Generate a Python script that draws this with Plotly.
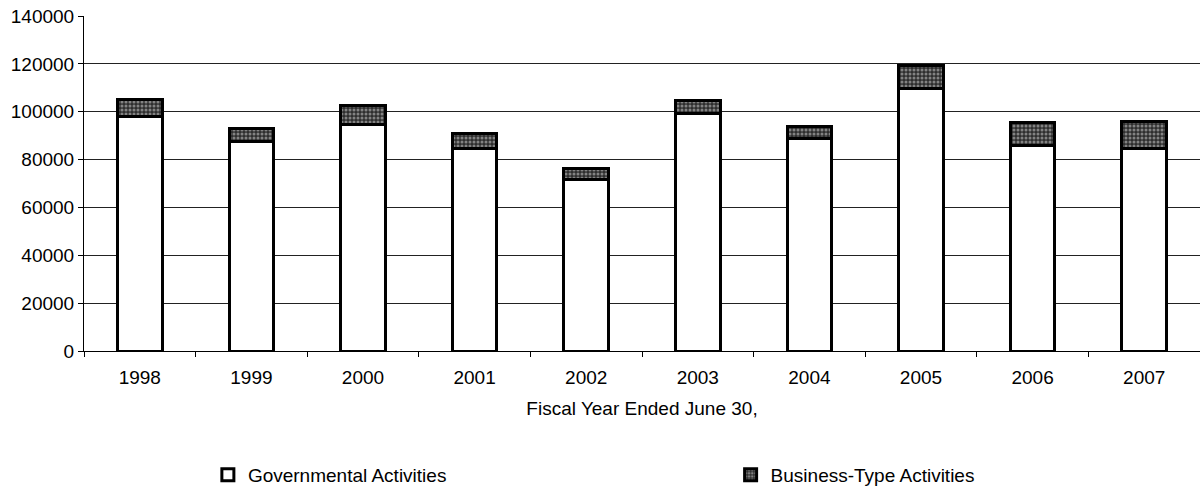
import plotly.graph_objects as go

years = ["1998", "1999", "2000", "2001", "2002", "2003", "2004", "2005", "2006", "2007"]
governmental = [97800, 87400, 94600, 84700, 71800, 99400, 89000, 109800, 85700, 84500]
business = [7400, 5400, 8200, 6300, 4400, 5200, 4700, 9500, 9800, 11300]

FONT = "Liberation Sans, Arial, sans-serif"

fig = go.Figure()
fig.add_trace(go.Bar(
    x=years, y=governmental, name="Governmental Activities",
    marker=dict(color="white", line=dict(color="black", width=3)),
    legend="legend",
))
fig.add_trace(go.Bar(
    x=years, y=business, name="Business-Type Activities",
    marker=dict(color="#555555", line=dict(color="black", width=3),
                pattern=dict(shape=".", bgcolor="#2e2e2e", fgcolor="#d8d8d8",
                             size=4, solidity=0.45)),
    legend="legend2",
))

fig.update_layout(
    barmode="stack",
    bargap=0.6,
    width=1200, height=490,
    margin=dict(l=84, r=0, t=16, b=139, autoexpand=False),
    paper_bgcolor="white", plot_bgcolor="white",
    font=dict(family=FONT, size=19, color="black"),
    showlegend=True,
    legend=dict(x=0.111, y=-0.37, xanchor="left", yanchor="middle",
                orientation="h", font=dict(size=19), itemwidth=30,
                bgcolor="rgba(0,0,0,0)"),
    legend2=dict(x=0.5794, y=-0.37, xanchor="left", yanchor="middle",
                 orientation="h", font=dict(size=19), itemwidth=30,
                 bgcolor="rgba(0,0,0,0)"),
    xaxis=dict(
        type="category",
        showline=True, linecolor="black", linewidth=1,
        ticks="outside", tickson="boundaries", ticklen=5, tickcolor="black",
        ticklabelstandoff=9,
        title=dict(text="Fiscal Year Ended June 30,", font=dict(size=19), standoff=14),
        showgrid=False,
    ),
    yaxis=dict(
        range=[0, 140000], dtick=20000, tickformat="d",
        showline=True, linecolor="black", linewidth=1,
        ticks="outside", ticklen=5, tickcolor="black",
        showgrid=True, gridcolor="#222222", gridwidth=1,
        zeroline=True, zerolinecolor="black", zerolinewidth=1,
    ),
)

fig.write_html("out.html")
